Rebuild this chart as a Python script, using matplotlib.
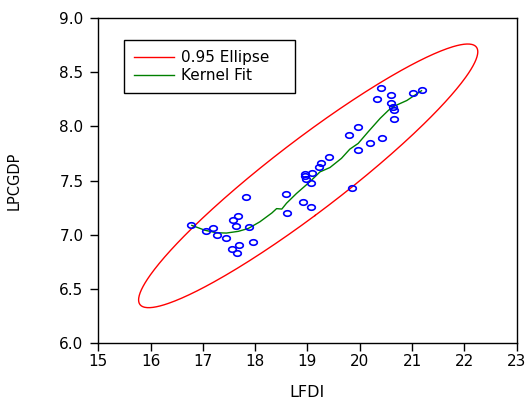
import numpy as np
import matplotlib
matplotlib.use("Agg")
import matplotlib.pyplot as plt

# scatter data
lfdi = [16.77, 17.06, 17.19, 17.28, 17.44, 17.55, 17.65, 17.70, 17.57, 17.68,
        17.63, 17.82, 17.88, 17.96, 18.59, 18.60, 18.91, 19.07, 19.07, 19.08,
        18.95, 18.95, 18.97, 19.23, 19.25, 19.41, 19.80, 19.97, 19.97, 20.20,
        20.43, 19.86, 20.32, 20.41, 20.60, 20.60, 20.64, 20.65, 20.66, 21.02,
        21.19]
lpcgdp = [7.085, 7.03, 7.06, 7.00, 6.965, 6.866, 6.826, 6.906, 7.134, 7.168,
          7.076, 7.347, 7.067, 6.928, 7.377, 7.196, 7.30, 7.257, 7.474, 7.572,
          7.562, 7.541, 7.511, 7.622, 7.664, 7.717, 7.92, 7.992, 7.784, 7.844,
          7.893, 7.433, 8.256, 8.352, 8.288, 8.216, 8.179, 8.149, 8.066, 8.312,
          8.334]

# kernel fit curve
kern_x = [16.79, 17.04, 17.26, 17.45, 17.68, 17.87, 18.09, 18.32, 18.41, 18.51,
          18.60, 18.79, 19.05, 19.24, 19.43, 19.65, 19.81, 19.97, 20.16, 20.39,
          20.55, 20.67, 20.90, 21.18]
kern_y = [7.085, 7.04, 7.017, 7.014, 7.03, 7.057, 7.118, 7.20, 7.24, 7.236,
          7.29, 7.38, 7.49, 7.58, 7.62, 7.705, 7.79, 7.843, 7.95, 8.075,
          8.15, 8.19, 8.24, 8.33]

conf = 0.95
ell_scale = 6.4  # squared radius of the ellipse, tuned to the picture

plt.rcParams['font.family'] = ['DejaVu Sans']

# ellipse from mean / covariance of the data
x = np.array(lfdi)
y = np.array(lpcgdp)
cov = np.cov(x, y)
vals, vecs = np.linalg.eigh(cov)
t = np.linspace(0, 2 * np.pi, 400)
circ = np.vstack([np.cos(t), np.sin(t)])
pts = vecs @ (np.sqrt(vals * ell_scale)[:, None] * circ)
ex = pts[0] + x.mean()
ey = pts[1] + y.mean()

# slightly wide open circle, like the source picture
a = np.linspace(0, 2 * np.pi, 40)
oval = np.column_stack([np.cos(a), 0.72 * np.sin(a)])

fig = plt.figure(figsize=(5.28, 4.05), dpi=100)
ax = fig.add_axes([0.186, 0.1538, 0.7926, 0.801])

ax.plot(ex, ey, color='#ff0000', lw=1.0, label='%.2f Ellipse' % conf)
ax.plot(kern_x, kern_y, color='#008000', lw=1.0, label='Kernel Fit')
ax.plot(lfdi, lpcgdp, marker=oval, mfc='none', mec='#0000ff', ms=5.5,
        mew=1.2, linestyle='none')

ax.set_xlim(15, 23)
ax.set_ylim(6.0, 9.0)
ax.set_xticks(range(15, 24))
ax.set_yticks([6.0, 6.5, 7.0, 7.5, 8.0, 8.5, 9.0])
ax.set_yticklabels(['6.0', '6.5', '7.0', '7.5', '8.0', '8.5', '9.0'])
ax.tick_params(direction='out', length=5.5, width=1, labelsize=11)
ax.tick_params(axis='y', pad=5)
ax.tick_params(axis='x', pad=2.5)
for s in ax.spines.values():
    s.set_linewidth(1.0)

ax.set_xlabel('LFDI', fontsize=11.5, labelpad=12)
ax.set_ylabel('LPCGDP', fontsize=10.5, labelpad=27)

ax.legend(loc='upper left', bbox_to_anchor=(0.062, 0.933, 0.409, 0.0),
          mode='expand', fontsize=11,
          frameon=True, fancybox=False, edgecolor='black', framealpha=1,
          handlelength=2.6, handletextpad=0.45, borderpad=0.65,
          labelspacing=0.2, borderaxespad=0)

fig.savefig('out.png', dpi=100)
